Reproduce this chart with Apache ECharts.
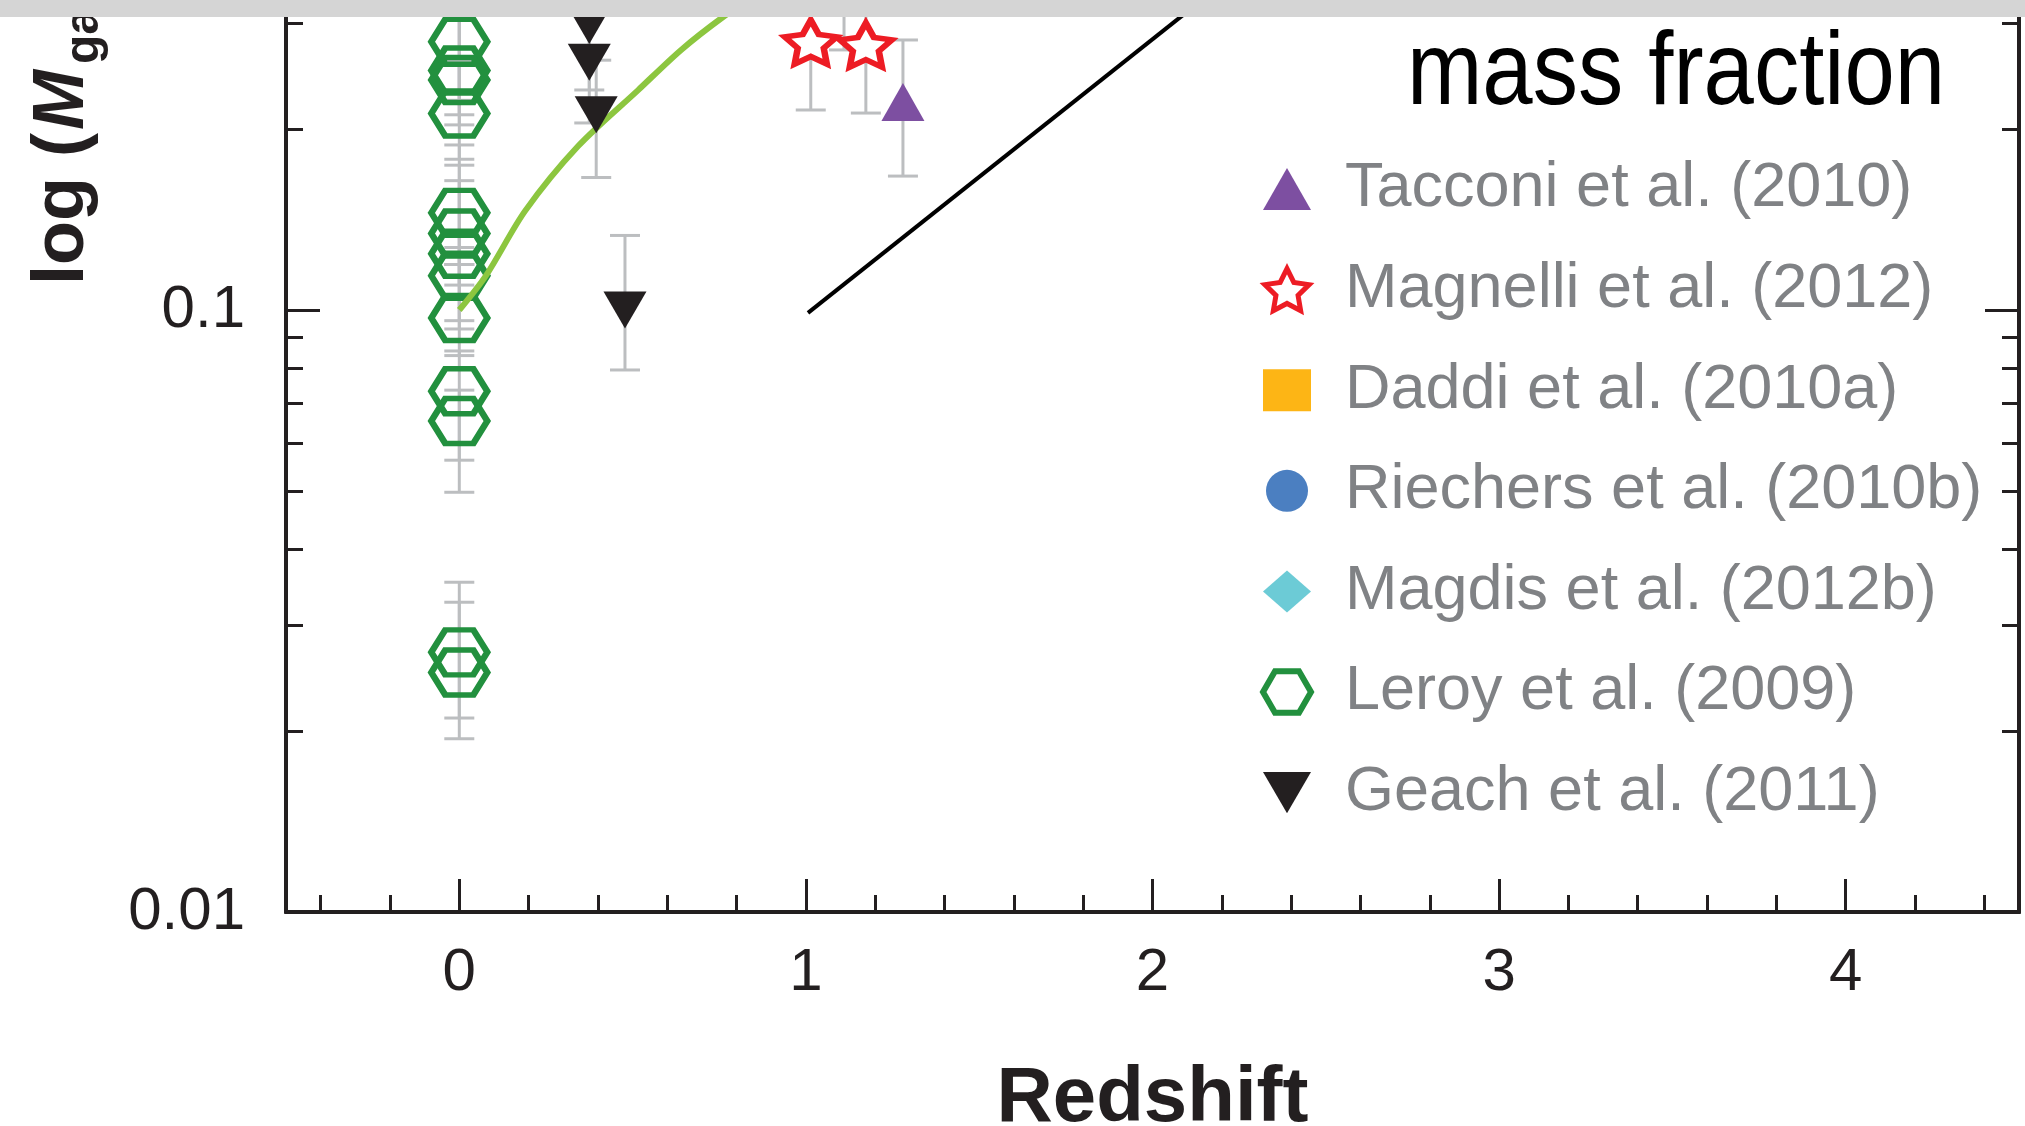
<!DOCTYPE html>
<html lang="en">
<head>
<meta charset="UTF-8">
<title>Gas mass fraction vs redshift</title>
<script src="https://cdn.jsdelivr.net/npm/echarts@6.0.0/dist/echarts.min.js"></script>
<style>
  html, body { margin: 0; padding: 0; background: #fff; }
  #chart { width: 2025px; height: 1126px; }
</style>
</head>
<body>
<div id="chart"></div>
<script>
// axis ticks
const xMajorTicks = [0, 1, 2, 3, 4];
const xMinorTicks = [-0.4, -0.2, 0.2, 0.4, 0.6, 0.8, 1.2, 1.4, 1.6, 1.8, 2.2, 2.4, 2.6, 2.8, 3.2, 3.4, 3.6, 3.8, 4.2, 4.4];
const yMajorTicks = [0.01, 0.1, 1];
const yMinorTicks = [0.02, 0.03, 0.04, 0.05, 0.06, 0.07, 0.08, 0.09, 0.2, 0.3, 0.4, 0.5, 0.6, 0.7, 0.8, 0.9];
const yTickLabels = [0.01, 0.1];

// Leroy et al. (2009), local galaxies
const leroyZ  = [0, 0, 0, 0, 0, 0, 0, 0, 0, 0, 0, 0, 0];
const leroyY  = [0.279, 0.250, 0.241, 0.212, 0.145, 0.134, 0.124, 0.114, 0.097, 0.0733, 0.0654, 0.0270, 0.0250];
const leroyLo = [0.223, 0.211, 0.203, 0.178, 0.119, 0.110, 0.096, 0.093, 0.084, 0.0563, 0.0498, 0.0210, 0.0194];
const leroyHi = [0.353, 0.327, 0.303, 0.259, 0.188, 0.174, 0.164, 0.127, 0.119, 0.0855, 0.0736, 0.0353, 0.0327];

// Geach et al. (2011)
const geachZ  = [0.375, 0.375, 0.395, 0.478];
const geachY  = [0.297, 0.258, 0.211, 0.100];
const geachLo = [0.232, 0.2045, 0.166, 0.0795];
const geachHi = [0.380, 0.327, 0.260, 0.133];

// Magnelli et al. (2012)
const magnelliZ  = [1.014, 1.11, 1.173];
const magnelliY  = [0.2787, 0.367, 0.2755];
const magnelliLo = [0.2149, 0.2704, 0.2124];
const magnelliHi = [0.353, 0.46, 0.353];

// Tacconi et al. (2010)
const tacconiZ  = [1.28];
const tacconiY  = [0.2216];
const tacconiLo = [0.1669];
const tacconiHi = [0.2809];

// model curve (green) and straight guide line (black)
const curveZ = [0.0, 0.078, 0.19, 0.343, 0.516, 0.640, 0.761, 0.876];
const curveY = [0.100, 0.1143, 0.1461, 0.1872, 0.2319, 0.2704, 0.3067, 0.340];
const guideZ = [1.006, 2.124];
const guideY = [0.0989, 0.321];

const names = ['Tacconi et al. (2010)', 'Magnelli et al. (2012)', 'Daddi et al. (2010a)',
  'Riechers et al. (2010b)', 'Magdis et al. (2012b)', 'Leroy et al. (2009)', 'Geach et al. (2011)'];

const zip = (a, b) => a.map((v, i) => [v, b[i]]);
const zip3 = (a, b, c) => a.map((v, i) => [v, b[i], c[i]]);

const errData = [].concat(
  zip3(leroyZ, leroyLo, leroyHi),
  zip3(geachZ, geachLo, geachHi),
  zip3(magnelliZ, magnelliLo, magnelliHi),
  zip3(tacconiZ, tacconiLo, tacconiHi)
);

const hexPath = 'path://M0,43 L25,0 L75,0 L100,43 L75,86 L25,86 Z';
const downTri = 'path://M0,0 L100,0 L50,86 Z';
const starPath = 'path://M100,0 L129.4,59.5 L195.1,69.1 L147.6,115.5 L158.8,180.9 L100,150 L41.2,180.9 L52.4,115.5 L4.9,69.1 L70.6,59.5 Z';

const font = 'Liberation Sans';
const ink = '#231f20';

function errBar(params, api) {
  const x = api.value(0);
  const pLo = api.coord([x, api.value(1)]);
  const pHi = api.coord([x, api.value(2)]);
  const w = 15;
  const st = { stroke: '#bcbec0', lineWidth: 3 };
  return {
    type: 'group',
    children: [
      { type: 'line', shape: { x1: pLo[0], y1: pLo[1], x2: pHi[0], y2: pHi[1] }, style: st },
      { type: 'line', shape: { x1: pLo[0] - w, y1: pLo[1], x2: pLo[0] + w, y2: pLo[1] }, style: st },
      { type: 'line', shape: { x1: pHi[0] - w, y1: pHi[1], x2: pHi[0] + w, y2: pHi[1] }, style: st }
    ]
  };
}

function yAx(pos, ticks, len, labels) {
  return {
    type: 'log', min: 0.01, max: 1, position: pos,
    axisLine: { show: true, onZero: false, lineStyle: { color: ink, width: 4 } },
    axisTick: { show: true, inside: true, length: len, customValues: ticks, lineStyle: { color: ink, width: 3 } },
    axisLabel: labels ? {
      show: true, customValues: labels, margin: 41, fontSize: 60, fontFamily: font, color: ink,
      formatter: v => String(Number(Number(v).toPrecision(2)))
    } : { show: false },
    splitLine: { show: false }, minorTick: { show: false }
  };
}

function xAx(ticks, len, labels) {
  return {
    type: 'value', min: -0.5, max: 4.5, position: 'bottom',
    axisLine: { show: true, onZero: false, lineStyle: { color: ink, width: 4 } },
    axisTick: { show: true, inside: true, length: len, customValues: ticks, lineStyle: { color: ink, width: 3 } },
    axisLabel: labels ? {
      show: true, customValues: labels, margin: 31, fontSize: 60, fontFamily: font, color: ink
    } : { show: false },
    splitLine: { show: false },
    name: labels ? 'Redshift' : '', nameLocation: 'middle', nameGap: 148,
    nameTextStyle: { fontSize: 78, fontWeight: 'bold', fontFamily: font, color: ink }
  };
}

const chart = echarts.init(document.getElementById('chart'));
chart.setOption({
  animation: false,
  backgroundColor: '#fff',
  grid: { left: 286, right: 6, top: -292, bottom: 214, outerBoundsMode: 'none', containLabel: false },
  xAxis: [xAx(xMajorTicks, 33, xMajorTicks), xAx(xMinorTicks, 17, null)],
  yAxis: [yAx('left', yMajorTicks, 34, yTickLabels), yAx('left', yMinorTicks, 17, null),
          yAx('right', yMajorTicks, 34, null), yAx('right', yMinorTicks, 17, null)],
  legend: {
    orient: 'vertical', left: 1260, top: 157.5, padding: 0,
    itemWidth: 48, itemHeight: 42, itemGap: 37.6, selectedMode: false,
    textStyle: { fontFamily: font, fontSize: 63, color: '#808285', padding: [0, 0, 0, 29] },
    data: [
      { name: names[0] },
      { name: names[1], itemStyle: { borderWidth: 5 } },
      { name: names[2] },
      { name: names[3] },
      { name: names[4] },
      { name: names[5], itemStyle: { borderWidth: 6 } },
      { name: names[6] }
    ]
  },
  series: [
    { type: 'custom', name: 'errors', renderItem: errBar, data: errData, z: 1,
      encode: { x: 0, y: [1, 2] }, clip: false },
    { type: 'scatter', name: names[5], data: zip(leroyZ, leroyY), symbol: hexPath, symbolSize: [56, 45],
      itemStyle: { color: 'rgba(255,255,255,0)', borderColor: '#22903e', borderWidth: 6, opacity: 1 }, z: 3 },
    { type: 'line', name: 'model', data: zip(curveZ, curveY), smooth: 0.3, showSymbol: false,
      lineStyle: { color: '#8cc63f', width: 6 }, z: 4 },
    { type: 'line', name: 'guide', data: zip(guideZ, guideY), showSymbol: false,
      lineStyle: { color: '#000', width: 4 }, z: 4 },
    { type: 'scatter', name: names[6], data: zip(geachZ, geachY), symbol: downTri, symbolSize: [43, 37],
      itemStyle: { color: ink, opacity: 1 }, z: 5 },
    { type: 'scatter', name: names[1], data: zip(magnelliZ, magnelliY), symbol: starPath, symbolSize: [52, 44],
      itemStyle: { color: '#fff', borderColor: '#ed1c24', borderWidth: 6, opacity: 1 }, z: 5 },
    { type: 'scatter', name: names[0], data: zip(tacconiZ, tacconiY), symbol: 'triangle', symbolSize: [43, 38],
      itemStyle: { color: '#7d4fa1', opacity: 1 }, z: 5 },
    { type: 'scatter', name: names[2], data: [], symbol: 'rect', itemStyle: { color: '#fdb515', opacity: 1 } },
    { type: 'scatter', name: names[3], data: [], symbol: 'circle', itemStyle: { color: '#4b7fc1', opacity: 1 } },
    { type: 'scatter', name: names[4], data: [], symbol: 'diamond', itemStyle: { color: '#6ccbd6', opacity: 1 } }
  ],
  graphic: [
    { type: 'text', x: 63, y: 285, rotation: Math.PI / 2, z: 50,
      style: { text: 'log (', font: 'bold 72px "Liberation Sans"', fill: ink, align: 'left', verticalAlign: 'middle' } },
    { type: 'text', x: 63, y: 130, rotation: Math.PI / 2, z: 50,
      style: { text: 'M', font: 'italic bold 72px "Liberation Sans"', fill: ink, align: 'left', verticalAlign: 'middle' } },
    { type: 'text', x: 85, y: 64, rotation: Math.PI / 2, z: 50,
      style: { text: 'gas', font: 'bold 48px "Liberation Sans"', fill: ink, align: 'left', verticalAlign: 'middle' } },
    { type: 'rect', shape: { x: 0, y: 0, width: 2025, height: 17 }, style: { fill: '#d5d5d5' }, z: 100 },
    { type: 'text', x: 1407, y: -53, scaleX: 0.87, z: 110,
      style: { text: 'gas', font: '104px "Liberation Sans"', fill: '#000', align: 'left', verticalAlign: 'middle' } },
    { type: 'text', x: 1407, y: 75, scaleX: 0.87, z: 110,
      style: { text: 'mass fraction', font: '104px "Liberation Sans"', fill: '#000', align: 'left', verticalAlign: 'middle' } }
  ]
});
</script>
</body>
</html>
